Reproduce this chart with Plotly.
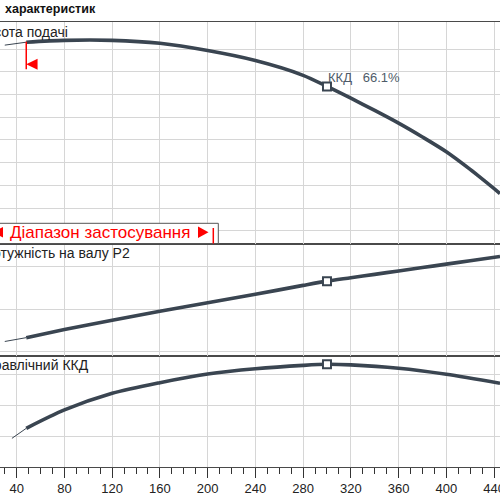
import plotly.graph_objects as go

# flow (x axis) and the three pump curves
flow = [30, 48, 80, 120, 160, 200, 240, 280, 300, 320, 340, 360, 380, 400, 420, 445]
head = [81.8, 83.1, 83.9, 83.9, 82.6, 79.4, 75.0, 68.5, 63.6, 58.4, 53.0, 47.4, 41.3, 34.8, 27.0, 16.4]
power = [22.4, 23.3, 25.2, 27.4, 29.5, 31.5, 33.5, 35.6, 36.6, 37.4, 38.2, 39.0, 39.8, 40.6, 41.4, 42.4]
eta_flow = [36, 48, 80, 120, 160, 200, 240, 280, 300, 320, 360, 400, 445]
eta = [18.9, 25.4, 37.3, 48.1, 55.0, 60.6, 64.0, 66.2, 66.9, 66.5, 64.3, 60.4, 54.6]

duty_flow = 300
range_start = 48
duty_eff_text = "ККД\u00a0\u00a0\u00a066.1%"

x_ticks = [40, 80, 120, 160, 200, 240, 280, 320, 360, 400, 440]
head_grid = [0, 10, 20, 30, 40, 50, 60, 70, 80]
power_grid = [20, 30, 40]
eta_grid = [20, 40, 60]

curve_col = "#3a4551"
grid_col = "#d6d6d6"
border_col = "#4a4a4a"
font_fam = "Liberation Sans, Arial, sans-serif"


def px(p):
    return p / 500


def py(p):
    return 1 - p / 500


fig = go.Figure()

panels = [("x3", "y3", flow, head), ("x2", "y2", flow, power), ("x", "y", eta_flow, eta)]
for xa, ya, q, vals in panels:
    # thin start before the usable range, thick after it
    fig.add_trace(go.Scatter(x=q[:2], y=vals[:2], mode="lines", xaxis=xa, yaxis=ya,
                             line=dict(color=curve_col, width=1)))
    fig.add_trace(go.Scatter(x=q[1:], y=vals[1:], mode="lines", xaxis=xa, yaxis=ya,
                             line=dict(color=curve_col, width=3.6, shape="spline", smoothing=0.8)))
    i = q.index(duty_flow)
    fig.add_trace(go.Scatter(x=[q[i]], y=[vals[i]], mode="markers", xaxis=xa, yaxis=ya,
                             marker=dict(symbol="square", size=8, color="white",
                                         line=dict(color=curve_col, width=2))))

xcommon = dict(range=[26, 445], tick0=0, dtick=40, showgrid=True, gridcolor=grid_col,
               gridwidth=1, zeroline=False, showline=True, linecolor=border_col,
               linewidth=1.2, mirror=True, automargin=False)
ycommon = dict(showgrid=True, gridcolor=grid_col, gridwidth=1, zeroline=False, automargin=False,
               showticklabels=False, ticks="", showline=False, tickmode="array")

fig.update_layout(
    width=500, height=500, margin=dict(l=0, r=0, t=0, b=0),
    paper_bgcolor="white", plot_bgcolor="white", showlegend=False,
    font=dict(family=font_fam, size=13, color="#222"),
    xaxis=dict(**xcommon, anchor="y", ticks="outside", ticklen=10, tickcolor="#333",
               tickvals=x_ticks, tickfont=dict(size=13, color="#222"), ticklabeloverflow="allow",
               minor=dict(dtick=10, ticks="outside", ticklen=6, tickcolor="#333", showgrid=False)),
    xaxis2=dict(**xcommon, anchor="y2", matches="x", showticklabels=False),
    xaxis3=dict(**xcommon, anchor="y3", matches="x", showticklabels=False),
    yaxis=dict(**ycommon, domain=[py(466.5), py(355.5)], range=[0.65, 72.6], tickvals=eta_grid),
    yaxis2=dict(**ycommon, domain=[py(355.5), py(243.5)], range=[19.1, 45.46], tickvals=power_grid),
    yaxis3=dict(**ycommon, domain=[py(243.5), py(22)], range=[-5.64, 92.0], tickvals=head_grid),
)

red = "#ff0000"
shapes = [
    # legend box for the usable range
    dict(type="rect", xref="paper", yref="paper", x0=px(-2), x1=px(218.3), y0=py(243.5), y1=py(223.3),
         line=dict(color="#555", width=1), fillcolor="white"),
    dict(type="line", xref="paper", yref="paper", x0=px(213.3), x1=px(213.3), y0=py(243.5), y1=py(228),
         line=dict(color=red, width=1.5)),
    dict(type="path", xref="paper", yref="paper", fillcolor=red, line=dict(width=0),
         path=f"M {px(198)},{py(226.5)} L {px(198)},{py(238)} L {px(208.5)},{py(232.3)} Z"),
    dict(type="path", xref="paper", yref="paper", fillcolor=red, line=dict(width=0),
         path=f"M {px(3)},{py(227)} L {px(3)},{py(237.5)} L {px(-8)},{py(232.3)} Z"),
    # start of the usable range on the head curve
    dict(type="line", xref="x3", yref="paper", x0=range_start, x1=range_start, y0=py(69.3), y1=py(41.7),
         line=dict(color=red, width=1.5)),
    dict(type="path", xref="x3", yref="paper", fillcolor=red, line=dict(width=0),
         path=f"M {range_start},{py(64.3)} L {range_start + 9.5},{py(58.8)} L {range_start + 9.5},{py(69.8)} Z"),
]
fig.update_layout(shapes=shapes)

annotations = [
    dict(text="<b>характеристик</b>", x=px(3), y=py(9), xanchor="left", yanchor="middle",
         font=dict(size=12.5, color="#111")),
    dict(text="Висота подачі", x=px(69.5), y=py(31.7), xanchor="right", yanchor="middle",
         font=dict(size=14, color="#222")),
    dict(text="Потужність на валу P2", x=px(132), y=py(253.3), xanchor="right", yanchor="middle",
         font=dict(size=14, color="#222")),
    dict(text="Гідравлічний ККД", x=px(90.5), y=py(365), xanchor="right", yanchor="middle",
         font=dict(size=14, color="#222")),
    dict(text="Діапазон застосування", x=px(8), y=py(232.5), xanchor="left", yanchor="middle",
         font=dict(size=17, color=red)),
]
for a in annotations:
    a.update(xref="paper", yref="paper", showarrow=False)

i = flow.index(duty_flow)
annotations.append(dict(text=duty_eff_text, xref="x3", yref="y3", x=flow[i], y=head[i],
                        xanchor="left", yanchor="middle", xshift=-1, yshift=9, showarrow=False,
                        font=dict(size=13, color="#4f5b69")))
fig.update_layout(annotations=annotations)

# the page's default body margin would shift the 500x500 figure
fig.write_html("out.html", config={"displayModeBar": False},
               post_script="document.body.style.margin='0';")
